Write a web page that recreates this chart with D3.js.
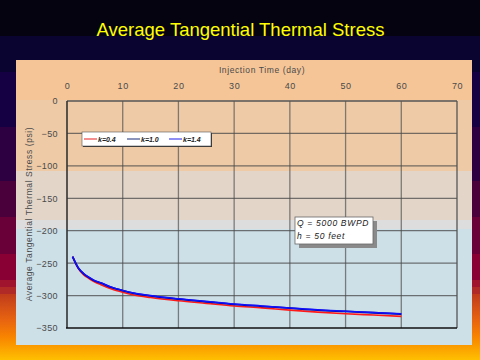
<!DOCTYPE html>
<html><head><meta charset="utf-8">
<script src="https://cdn.jsdelivr.net/npm/d3@7"></script>
<style>
html,body{margin:0;padding:0;background:#000;}
svg{display:block;}
text{font-family:"Liberation Sans",Arial,sans-serif;}
</style></head>
<body>
<script>
// ---- data ----
const days = [1, 2, 3, 4, 5, 6, 8, 10, 12, 15, 20, 25, 30, 35, 40, 45, 50, 55, 60];
const stressK04 = [-240, -258, -268, -274, -279, -283, -290, -295, -299, -303, -308, -312, -316, -319, -322.5, -325.5, -328, -330, -332];
const stressK10 = [-240, -257, -266.5, -272.5, -277.5, -280.5, -287.5, -292.5, -296.5, -300.5, -305.5, -309.5, -313.5, -316.5, -319.5, -322.5, -324.5, -326.5, -328.5];
const stressK14 = [-240, -257, -266, -272, -277, -280, -287, -292, -296, -300, -305, -309, -313, -316, -319, -322, -324, -326, -328];
const seriesNames = ["k=0.4", "k=1.0", "k=1.4"];
const xTicks = [0, 10, 20, 30, 40, 50, 60, 70];
const yTicks = [0, -50, -100, -150, -200, -250, -300, -350];
const titleText = "Average Tangential Thermal Stress";
const xTitle = "Injection Time (day)";
const yTitle = "Average Tangential Thermal Stress (psi)";
const noteLines = ["Q = 5000 BWPD", "h = 50 feet"];

const W = 480, H = 360;
const svg = d3.select("body").append("svg").attr("width", W).attr("height", H);

// slide background bands
const slideBands = [
  [0, 36, "#05030f"], [36, 72, "#0a0530"], [72, 127, "#140042"], [127, 181, "#2d0042"],
  [181, 217, "#4a003a"], [217, 254, "#6a0038"], [254, 280, "#880034"], [280, 287, "#a0142e"],
  [287, 294, "#b02a28"]
];
slideBands.forEach(b => svg.append("rect").attr("x", 0).attr("y", b[0]).attr("width", W).attr("height", b[1] - b[0]).attr("fill", b[2]));
const grad = svg.append("defs").append("linearGradient").attr("id", "lowgrad").attr("x1", 0).attr("x2", 0).attr("y1", 0).attr("y2", 1);
[[0, "#c03c1c"], [0.4, "#e86410"], [0.65, "#f88400"], [1, "#ffc000"]].forEach(s =>
  grad.append("stop").attr("offset", s[0]).attr("stop-color", s[1]));
svg.append("rect").attr("x", 0).attr("y", 294).attr("width", W).attr("height", 66).attr("fill", "url(#lowgrad)");

// title
svg.append("text").attr("x", 240.5).attr("y", 36).attr("text-anchor", "middle")
  .attr("fill", "#ffff00").attr("font-size", 18.5).text(titleText);

// chart panel bands
const panelBands = [[60, 100, "#f5c597"], [100, 171, "#eecba6"], [171, 220, "#e3d6c9"], [220, 229, "#dddddd"], [229, 345, "#cde0e8"]];
panelBands.forEach(b => svg.append("rect").attr("x", 16).attr("y", b[0]).attr("width", 456).attr("height", b[1] - b[0]).attr("fill", b[2]));

// scales
const x = d3.scaleLinear().domain([0, 70]).range([67, 457]);
const y = d3.scaleLinear().domain([0, -350]).range([101, 328]);

// grid
const g = svg.append("g");
g.selectAll(".vg").data(xTicks.slice(1, -1)).join("line")
  .attr("x1", d => x(d)).attr("x2", d => x(d)).attr("y1", y(0)).attr("y2", y(-350))
  .attr("stroke", "#5a5a5a").attr("stroke-opacity", 0.75).attr("stroke-width", 1.3);
g.selectAll(".hg").data(yTicks.slice(1, -1)).join("line")
  .attr("x1", x(0)).attr("x2", x(70)).attr("y1", d => y(d)).attr("y2", d => y(d))
  .attr("stroke", "#4a4a4a").attr("stroke-opacity", 0.75).attr("stroke-width", 1.3);
// top & right frame
g.append("line").attr("x1", x(0)).attr("x2", x(70)).attr("y1", y(0)).attr("y2", y(0)).attr("stroke", "#555").attr("stroke-width", 1.3);
g.append("line").attr("x1", x(70)).attr("x2", x(70)).attr("y1", y(0)).attr("y2", y(-350)).attr("stroke", "#555").attr("stroke-width", 1.3);

// axes
const xAxis = d3.axisTop(x).tickValues(xTicks).tickSize(0).tickPadding(0);
const xa = svg.append("g").attr("transform", `translate(0,${y(0) - 12})`).call(xAxis);
xa.select(".domain").remove();
xa.selectAll("text").attr("fill", "#4a4a4a").attr("font-size", 9).attr("letter-spacing", 0.6).attr("dy", 0);
svg.append("line").attr("x1", x(0)).attr("x2", x(0)).attr("y1", y(0)).attr("y2", y(-350)).attr("stroke", "#333").attr("stroke-width", 1.6);
svg.append("line").attr("x1", x(0) - 1).attr("x2", x(70)).attr("y1", y(-350)).attr("y2", y(-350)).attr("stroke", "#111").attr("stroke-width", 1.6);
const yAxis = d3.axisLeft(y).tickValues(yTicks).tickSize(0).tickPadding(9);
const ya = svg.append("g").attr("transform", `translate(${x(0)},0)`).call(yAxis);
ya.select(".domain").remove();
ya.selectAll("text").attr("fill", "#4a4a4a").attr("font-size", 9).attr("letter-spacing", 0.4);

svg.append("text").attr("x", 262).attr("y", 73).attr("text-anchor", "middle")
  .attr("fill", "#4a4a4a").attr("font-size", 8.5).attr("letter-spacing", 0.6).text(xTitle);
svg.append("text").attr("transform", "translate(32,214) rotate(-90)").attr("text-anchor", "middle")
  .attr("fill", "#4a4a4a").attr("font-size", 8.5).attr("letter-spacing", 0.6).text(yTitle);

// lines
const series = [
  { name: seriesNames[0], vals: stressK04, color: "#ff1a1a", w: 1.6 },
  { name: seriesNames[1], vals: stressK10, color: "#000090", w: 1.8 },
  { name: seriesNames[2], vals: stressK14, color: "#1010ff", w: 1.5 }
];
const line = d3.line().x(d => x(d[0])).y(d => y(d[1])).curve(d3.curveMonotoneX);
series.forEach(s => {
  svg.append("path").datum(days.map((d, i) => [d, s.vals[i]]))
    .attr("d", line).attr("fill", "none").attr("stroke", s.color).attr("stroke-width", s.w);
});

// legend
const lg = svg.append("g");
lg.append("rect").attr("x", 83).attr("y", 133).attr("width", 129).attr("height", 14).attr("fill", "#333");
lg.append("rect").attr("x", 82).attr("y", 132).attr("width", 129).attr("height", 14).attr("fill", "#fff").attr("stroke", "#555").attr("stroke-width", 0.6);
const legColors = ["#ee4444", "#405090", "#4444ee"];
const legX = [84, 127, 169];
seriesNames.forEach((n, i) => {
  lg.append("line").attr("x1", legX[i]).attr("x2", legX[i] + 13).attr("y1", 139).attr("y2", 139).attr("stroke", legColors[i]).attr("stroke-width", 1.2);
  lg.append("text").attr("x", legX[i] + 14).attr("y", 141.5).attr("font-size", 7).attr("font-weight", "bold").attr("font-style", "italic").attr("fill", "#222").text(n);
});

// annotation
const an = svg.append("g");
an.append("rect").attr("x", 299).attr("y", 221).attr("width", 78).attr("height", 27).attr("fill", "#8a8a8a");
an.append("rect").attr("x", 295).attr("y", 217).attr("width", 78).attr("height", 27).attr("fill", "#fff").attr("stroke", "#666").attr("stroke-width", 0.8);
noteLines.forEach((t, i) => {
  an.append("text").attr("x", 297).attr("y", 226 + i * 12.5).attr("font-size", 8.5).attr("font-style", "italic")
    .attr("letter-spacing", 0.7).attr("fill", "#222").text(t);
});
</script>
</body></html>
